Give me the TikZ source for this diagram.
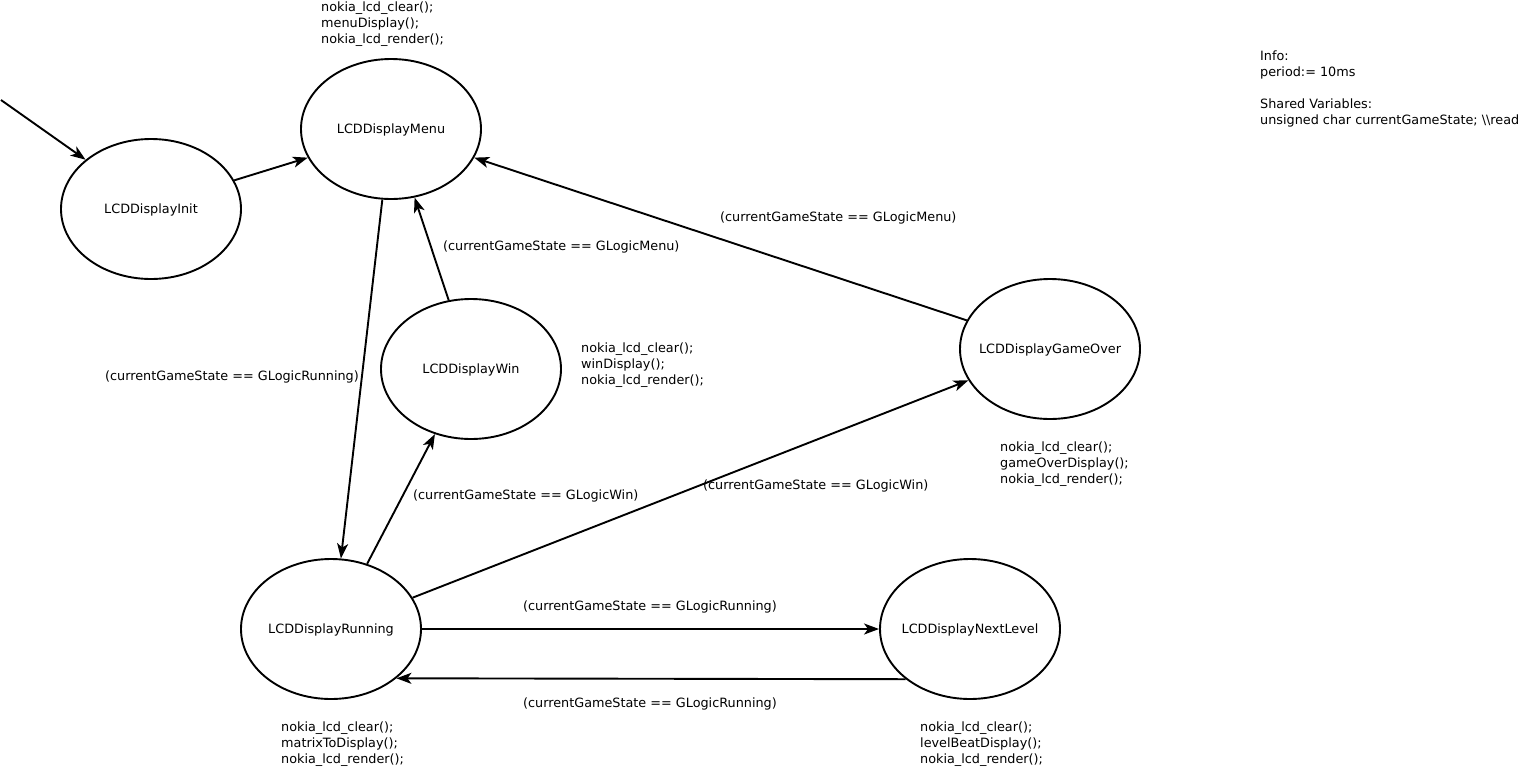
\documentclass[tikz,border=0pt]{standalone}
\usepackage{fontspec}
\setmainfont{DejaVu Sans}
\usetikzlibrary{arrows.meta,shapes.geometric}
\newcommand{\stxt}[1]{\makebox[0pt]{#1}}
\begin{document}
\begin{tikzpicture}[x=1pt,y=-1pt,
  every node/.style={font=\fontsize{12.8}{16}\selectfont},
  state/.style={draw,ellipse,line width=1.9pt,minimum width=180pt,minimum height=140pt,inner sep=0pt,text height=9.4pt,text depth=0pt},
  lbl/.style={anchor=west,inner sep=0pt,align=left},
  conn/.style={line width=1.9pt,-{Stealth[length=15pt,width=11pt,inset=4pt]}}]
\useasboundingbox (0,0) rectangle (1521,766);
\node[state] (init) at (151,209) {\stxt{LCDDisplayInit}};
\node[state] (menu) at (391,129) {\stxt{LCDDisplayMenu}};
\node[state] (win) at (471,369) {\stxt{LCDDisplayWin}};
\node[state] (over) at (1050,349) {\stxt{LCDDisplayGameOver}};
\node[state] (run) at (331,629) {\stxt{LCDDisplayRunning}};
\node[state] (next) at (970,629) {\stxt{LCDDisplayNextLevel}};
\coordinate (start) at (1,100);

\draw[conn] (start) -- (init.143);
\draw[conn] (init.19) -- (menu.-161.6);
\draw[conn] (menu.-97.2) -- (run.82.8);
\draw[conn] (win.108.9) -- (menu.-71.6);
\draw[conn] (over.161.6) -- (menu.-19.3);
\draw[conn] (run.61.7) -- (win.-119);
\draw[conn] (run.21.4) -- (over.-159);
\draw[conn] (run.0) -- (next.180);
\draw[conn] (next.-142.6) -- (run.-37.4);

\begin{scope}[yshift=-2pt]
\node[lbl] (tmenu) at (321,22) {nokia\_lcd\_clear();\\menuDisplay();\\nokia\_lcd\_render();};
\node[lbl] (twin) at (581,363) {nokia\_lcd\_clear();\\winDisplay();\\nokia\_lcd\_render();};
\node[lbl] (tover) at (1000,462) {nokia\_lcd\_clear();\\gameOverDisplay();\\nokia\_lcd\_render();};
\node[lbl] (trun) at (281,742) {nokia\_lcd\_clear();\\matrixToDisplay();\\nokia\_lcd\_render();};
\node[lbl] (tnext) at (920,742) {nokia\_lcd\_clear();\\levelBeatDisplay();\\nokia\_lcd\_render();};
\node[lbl] (info) at (1260,87) {Info:\\period:= 10ms\\[16pt]Shared Variables:\\unsigned char currentGameState; \textbackslash\textbackslash read};

\node[lbl] (l1) at (443,245) {(currentGameState == GLogicMenu)};
\node[lbl] (l2) at (720,216) {(currentGameState == GLogicMenu)};
\node[lbl] (l3) at (105,375) {(currentGameState == GLogicRunning)};
\node[lbl] (l4) at (413,494) {(currentGameState == GLogicWin)};
\node[lbl] (l5) at (703,484) {(currentGameState == GLogicWin)};
\node[lbl] (l6) at (523,605) {(currentGameState == GLogicRunning)};
\node[lbl] (l7) at (523,702) {(currentGameState == GLogicRunning)};
\end{scope}
\end{tikzpicture}
\end{document}
